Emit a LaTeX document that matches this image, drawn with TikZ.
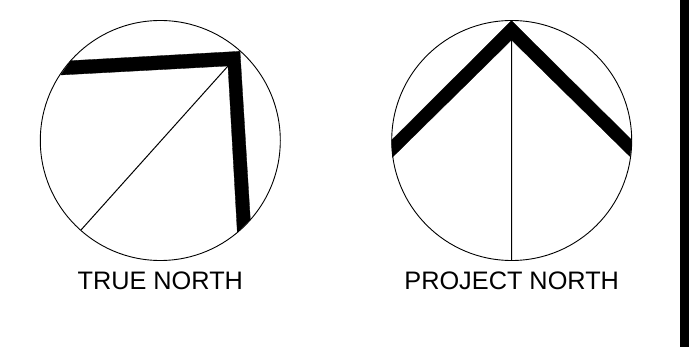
\documentclass[tikz,border=0pt]{standalone}
\usepackage{fontspec}
\setmainfont{Liberation Sans}
\usetikzlibrary{positioning}

\begin{document}
\begin{tikzpicture}[x=1pt, y=-1pt,
                   dial/.style={draw, circle, line width=0.9pt, minimum size=240pt, inner sep=0pt, outer sep=0pt},
                   pointer/.style={fill=black, draw=black, line width=0.3pt, line join=miter},
                   stem/.style={draw, line width=1pt},
                   caption/.style={font=\fontsize{25.3}{25.3}\selectfont, inner sep=0pt}]
    \useasboundingbox (0,0) rectangle (691,347);
    % true north
    \node[dial] (truedial) at (160.3,140.5) {};
    \coordinate (truehub) at (228,66);
    \coordinate (truefoot) at (81,230);
    \fill[pointer] (60.7,75) -- (70.7,60.7) -- (240,51.3) -- (250.3,219.3)
                   -- (237.3,232.3) -- (truehub) -- cycle;
    \draw[stem] (truehub) -- (truefoot);
    \node[caption] (truelabel) at (160.3,281) {TRUE NORTH};
    % project north
    \node[dial] (projdial) at (511.7,140.5) {};
    \coordinate (projhub) at (511.5,40);
    \fill[pointer] (391.7,140) -- (511.5,20.7) -- (631.7,140) -- (630.2,156.7)
                   -- (projhub) -- (392.4,157.3) -- cycle;
    \draw[stem] (projhub) -- (projdial.south);
    \node[caption] (projlabel) at (511.7,281) {PROJECT NORTH};
    % sheet border
    \fill[black] (680.3,0) rectangle (689,347);
\end{tikzpicture}
\end{document}
